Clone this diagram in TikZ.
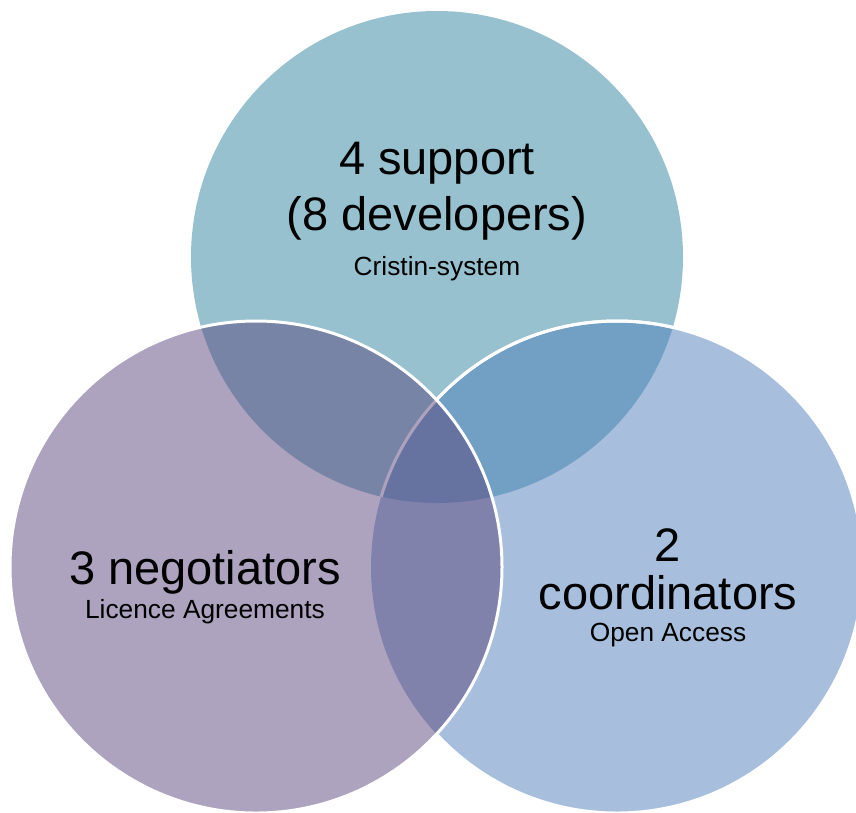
\documentclass[tikz,border=0pt]{standalone}
\usepackage{fontspec}
\setmainfont{Liberation Sans}
\usepackage{tikz}

\definecolor{topfill}{RGB}{47,131,157}
\definecolor{leftfill}{RGB}{91,71,125}
\definecolor{rightfill}{RGB}{79,127,187}

\tikzset{
  bigtext/.style={anchor=base,font=\fontsize{47}{56}\selectfont},
  smalltext/.style={anchor=base,font=\fontsize{26.3}{32}\selectfont},
  venn/.style={fill opacity=.5},
  rim/.style={draw=white,line width=3pt}
}

\begin{document}
\begin{tikzpicture}[x=1pt,y=-1pt]
\useasboundingbox (0,0) rectangle (856,812);
\coordinate (topc) at (437,257);
\coordinate (leftc) at (256,567);
\coordinate (rightc) at (617,567);

\fill[venn,fill=topfill] (topc) circle[radius=246pt];
\fill[venn,fill=rightfill] (rightc) circle[radius=246pt];
\begin{scope}
\clip (topc) circle[radius=246pt];
\draw[rim] (rightc) circle[radius=246pt];
\end{scope}
\fill[venn,fill=leftfill] (leftc) circle[radius=246pt];
\draw[rim] (leftc) circle[radius=246pt];
\begin{scope}[even odd rule]
\clip (-50,-50) rectangle (906,862) (leftc) circle[radius=246pt];
\draw[rim] (rightc) circle[radius=246pt];
\end{scope}

\node[bigtext] (support) at (437,174) {4 support};
\node[bigtext] (developers) at (437,230) {(8 developers)};
\node[smalltext] (cristin) at (437,275) {Cristin-system};

\node[bigtext] (negotiators) at (205,584) {3 negotiators};
\node[smalltext] (licence) at (205,618) {Licence Agreements};

\node[bigtext] (two) at (668,561) {2};
\node[bigtext] (coordinators) at (668,609) {coordinators};
\node[smalltext] (openaccess) at (668,641) {Open Access};
\end{tikzpicture}
\end{document}
